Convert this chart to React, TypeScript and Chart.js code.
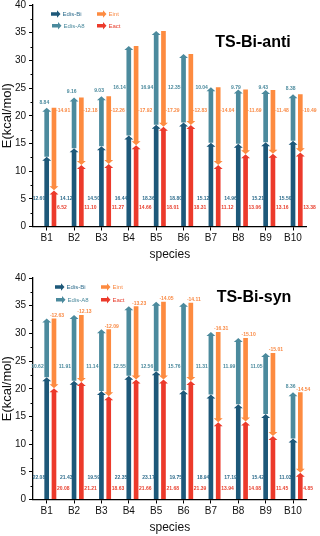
import React, { useEffect, useRef } from 'react';
import { Chart, registerables } from 'chart.js';

Chart.register(...registerables);

// ---------- data ----------
const categories = ['B1', 'B2', 'B3', 'B4', 'B5', 'B6', 'B7', 'B8', 'B9', 'B10'];

const antiEdisBi = [12.6, 14.12, 14.5, 16.44, 18.36, 18.8, 15.12, 14.96, 15.21, 15.5];
const antiEdisA8 = [8.84, 9.16, 9.03, 16.14, 16.94, 12.35, 10.04, 9.79, 9.43, 8.38];
const antiEint = [-14.91, -12.18, -12.26, -17.92, -17.29, -12.83, -14.04, -11.69, -11.48, -10.49];
const antiEact = [6.52, 11.1, 11.27, 14.66, 18.01, 18.31, 11.12, 13.06, 13.16, 13.38];

const synEdisBi = [22.08, 21.43, 19.59, 22.35, 23.17, 19.75, 18.94, 17.19, 15.42, 11.03];
const synEdisA8 = [10.62, 11.91, 11.14, 12.55, 12.56, 15.76, 11.31, 11.99, 11.05, 8.36];
const synEint = [-12.63, -12.13, -12.09, -13.23, -14.05, -14.11, -16.31, -15.1, -15.01, -14.54];
const synEact = [20.08, 21.21, 18.63, 21.66, 21.68, 21.39, 13.94, 14.08, 11.45, 4.85];

const yMin = 0;
const yMax = 40;
const yStep = 5;

const seriesNames = ['Edis-Bi', 'Edis-A8', 'Eint', 'Eact'];

// ---------- styles ----------
const FONT = "'Liberation Sans', Arial, sans-serif";
const C_BI = '#1d5879';
const C_A8 = '#4b8a9d';
const C_EINT = '#fd8b40';
const C_EACT = '#ec3a2b';
const T_BI = '#2f6d8d';
const T_A8 = '#4b8a9d';
const T_EINT = '#f98a45';
const T_EACT = '#e8402f';

function drawArrowV(ctx: CanvasRenderingContext2D, x: number, top: number, bot: number, w: number, down: boolean, color: string) {
  const hw = w * 0.95;
  const hh = 4;
  ctx.save();
  ctx.fillStyle = color;
  ctx.beginPath();
  if (!down) {
    ctx.moveTo(x - w / 2, bot);
    ctx.lineTo(x - w / 2, top + hh);
    ctx.lineTo(x - hw, top + hh);
    ctx.lineTo(x, top);
    ctx.lineTo(x + hw, top + hh);
    ctx.lineTo(x + w / 2, top + hh);
    ctx.lineTo(x + w / 2, bot);
  } else {
    ctx.moveTo(x - w / 2, top);
    ctx.lineTo(x - w / 2, bot - hh);
    ctx.lineTo(x - hw, bot - hh);
    ctx.lineTo(x, bot);
    ctx.lineTo(x + hw, bot - hh);
    ctx.lineTo(x + w / 2, bot - hh);
    ctx.lineTo(x + w / 2, top);
  }
  ctx.closePath();
  ctx.fill();
  ctx.restore();
}

function drawArrowH(ctx: CanvasRenderingContext2D, x0: number, x1: number, y: number, color: string) {
  const t = 3.6;
  const hw = 3.8;
  const hl = 3.5;
  ctx.save();
  ctx.fillStyle = color;
  ctx.beginPath();
  ctx.moveTo(x0, y - t / 2);
  ctx.lineTo(x1 - hl, y - t / 2);
  ctx.lineTo(x1 - hl, y - hw);
  ctx.lineTo(x1, y);
  ctx.lineTo(x1 - hl, y + hw);
  ctx.lineTo(x1 - hl, y + t / 2);
  ctx.lineTo(x0, y + t / 2);
  ctx.closePath();
  ctx.fill();
  ctx.restore();
}

type PanelProps = {
  title: string;
  bi: number[];
  a8: number[];
  eint: number[];
  eact: number[];
  mode: 'anti' | 'syn';
  top: number;
  padTop: number;
  padBottom: number;
  legendX: number;
  legendY: number;
  legendRow: number;
  titleX: number;
  titleY: number;
};

function Panel(props: PanelProps) {
  const ref = useRef<HTMLCanvasElement | null>(null);
  useEffect(() => {
    const { bi, a8, eint, eact, mode } = props;
    const totals = bi.map((v, i) => v + a8[i]);

    const arrowPlugin = {
      id: 'arrows',
      afterDatasetsDraw(chart: any) {
        const ctx = chart.ctx as CanvasRenderingContext2D;
        const specs: [number, string, boolean][] = [
          [1, C_A8, false],
          [2, C_BI, false],
          [3, C_EINT, true],
          [4, C_EACT, false],
        ];
        for (const [di, color, down] of specs) {
          const meta = chart.getDatasetMeta(di);
          meta.data.forEach((el: any) => {
            const p = el.getProps(['x', 'y', 'base', 'width'], true);
            const t = Math.min(p.y, p.base);
            const b = Math.max(p.y, p.base);
            drawArrowV(ctx, p.x, t, b, p.width, down, color);
          });
        }
      },
    };

    const decoPlugin = {
      id: 'deco',
      afterDraw(chart: any) {
        const ctx = chart.ctx as CanvasRenderingContext2D;
        const ys = chart.scales.y;
        const area = chart.chartArea;
        // minor ticks
        ctx.save();
        ctx.strokeStyle = '#000';
        ctx.lineWidth = 1;
        for (let v = yMin + yStep / 2; v < yMax; v += yStep) {
          const py = Math.round(ys.getPixelForValue(v)) + 0.5;
          ctx.beginPath();
          ctx.moveTo(area.left - 2.5, py);
          ctx.lineTo(area.left, py);
          ctx.stroke();
        }
        ctx.restore();

        // value labels
        const blue = chart.getDatasetMeta(2).data;
        const red = chart.getDatasetMeta(4).data;
        const orange = chart.getDatasetMeta(3).data;
        ctx.save();
        ctx.font = `bold 5px ${FONT}`;
        ctx.textBaseline = 'middle';
        categories.forEach((_, i) => {
          const bx = blue[i].x;
          const rx = red[i].x;
          const ox = orange[i].x;
          // Edis-Bi
          ctx.fillStyle = T_BI;
          ctx.textAlign = 'right';
          ctx.fillText(bi[i].toFixed(2), bx - 1.5, ys.getPixelForValue(mode === 'anti' ? 5 : 3.9));
          // Edis-A8
          ctx.fillStyle = T_A8;
          const cap = mode === 'anti' ? 25 : 24;
          const above = totals[i] + 1 <= cap + 0.8;
          const a8v = Math.min(cap, totals[i] + 1);
          ctx.fillText(a8[i].toFixed(2), above ? bx + 2.5 : bx - 3, ys.getPixelForValue(a8v));
          // Eint
          ctx.fillStyle = T_EINT;
          if (mode === 'anti') {
            ctx.textAlign = 'left';
            ctx.fillText(eint[i].toFixed(2), ox + 2, ys.getPixelForValue(21));
          } else {
            ctx.textAlign = 'center';
            ctx.fillText(eint[i].toFixed(2), ox + 3, ys.getPixelForValue(totals[i]) - 3);
          }
          // Eact
          ctx.fillStyle = T_EACT;
          ctx.textAlign = 'left';
          ctx.fillText(eact[i].toFixed(2), rx + 3, ys.getPixelForValue(mode === 'anti' ? 3.4 : 1.9));
        });
        ctx.restore();

        // legend
        const lx = props.legendX;
        const ly = props.legendY;
        const row = props.legendRow;
        const items: [string, string, string, number, number][] = [
          [seriesNames[0], C_BI, T_BI, 0, 0],
          [seriesNames[2], C_EINT, T_EINT, 46, 0],
          [seriesNames[1], C_A8, T_A8, 1, row],
          [seriesNames[3], C_EACT, T_EACT, 46, row],
        ];
        ctx.save();
        ctx.font = `6px ${FONT}`;
        ctx.textBaseline = 'middle';
        ctx.textAlign = 'left';
        for (const [name, c, tc, dx, dy] of items) {
          drawArrowH(ctx, lx + dx, lx + dx + 9.5, ly + dy, c);
          ctx.fillStyle = tc;
          ctx.fillText(name, lx + dx + 11.5, ly + dy + 0.3);
        }
        ctx.restore();

        // title
        ctx.save();
        ctx.font = `bold 16px ${FONT}`;
        ctx.fillStyle = '#000';
        ctx.textAlign = 'center';
        ctx.textBaseline = 'middle';
        ctx.fillText(props.title, props.titleX, props.titleY);
        ctx.restore();
      },
    };

    const common = {
      backgroundColor: 'rgba(0,0,0,0)',
      borderWidth: 0,
      categoryPercentage: 0.8,
      barPercentage: 0.64,
    };

    const chart = new Chart(ref.current as HTMLCanvasElement, {
      type: 'bar',
      data: {
        labels: categories,
        datasets: [
          { ...common, label: 'gap', data: categories.map(() => null), stack: 'gap' },
          { ...common, label: seriesNames[1], data: bi.map((v, i) => [v, totals[i]]), stack: 'L' },
          { ...common, label: seriesNames[0], data: bi.map((v) => [0, v]), stack: 'L' },
          { ...common, label: seriesNames[2], data: eint.map((v, i) => [totals[i], totals[i] + v]), stack: 'R' },
          { ...common, label: seriesNames[3], data: eact.map((v) => [0, v]), stack: 'R' },
        ] as any,
      },
      options: {
        animation: false,
        responsive: false,
        maintainAspectRatio: false,
        events: [],
        layout: { padding: { left: 0, right: 13.3, top: props.padTop, bottom: props.padBottom } },
        plugins: { legend: { display: false }, tooltip: { enabled: false } },
        scales: {
          x: {
            type: 'category',
            offset: true,
            grid: { display: true, drawOnChartArea: false, drawTicks: true, tickLength: 4, offset: false, color: '#000', tickColor: '#000', tickWidth: 1 },
            border: { display: true, color: '#000', width: 1.3 },
            ticks: { color: '#111', font: { family: FONT, size: 10 }, padding: 2, maxRotation: 0, autoSkip: false },
            title: { display: true, text: 'species', color: '#111', font: { family: FONT, size: 12 }, padding: 0 },
            afterFit: (s: any) => {
              s.height = 35.5;
            },
          },
          y: {
            type: 'linear',
            min: yMin,
            max: yMax,
            stacked: false,
            grid: { display: true, drawOnChartArea: false, drawTicks: true, tickLength: 4, color: '#000', tickColor: '#000', tickWidth: 1 },
            border: { display: true, color: '#000', width: 1.3 },
            ticks: { stepSize: yStep, color: '#111', font: { family: FONT, size: 10 }, padding: 3 },
            title: { display: true, text: 'E(kcal/mol)', color: '#111', font: { family: FONT, size: 13 }, padding: 0 },
            afterFit: (s: any) => {
              s.width = 33;
              s.paddingTop = 0;
              s.paddingBottom = 0;
            },
          },
        },
      } as any,
      plugins: [arrowPlugin, decoPlugin],
    });
    return () => chart.destroy();
  }, []);

  return (
    <canvas
      ref={ref}
      width={320}
      height={268}
      style={{ position: 'absolute', left: 0, top: props.top, width: 320, height: 268 }}
    />
  );
}

export default function App() {
  return (
    <div style={{ position: 'absolute', left: 0, top: 0, width: 320, height: 536, background: '#fff', overflow: 'hidden' }}>
      <Panel
        title="TS-Bi-anti"
        bi={antiEdisBi}
        a8={antiEdisA8}
        eint={antiEint}
        eact={antiEact}
        mode="anti"
        top={0}
        padTop={5}
        padBottom={6}
        legendX={51}
        legendY={14}
        legendRow={11.7}
        titleX={253}
        titleY={43}
      />
      <Panel
        title="TS-Bi-syn"
        bi={synEdisBi}
        a8={synEdisA8}
        eint={synEint}
        eact={synEact}
        mode="syn"
        top={268}
        padTop={10}
        padBottom={1}
        legendX={55}
        legendY={19}
        legendRow={12.7}
        titleX={254}
        titleY={30}
      />
    </div>
  );
}
